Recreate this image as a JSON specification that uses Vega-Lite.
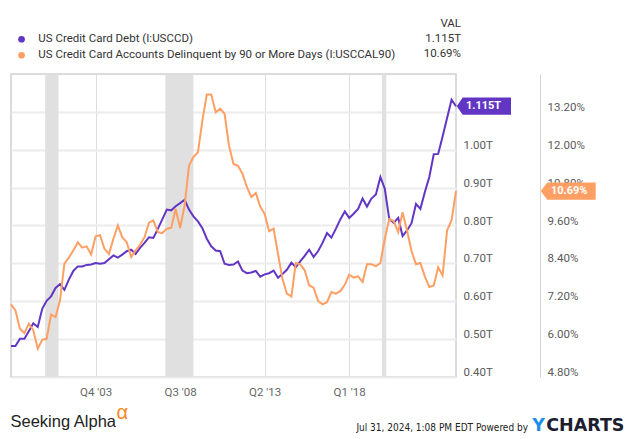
{
  "$schema": "https://vega.github.io/schema/vega-lite/v6.json",
  "width": 445,
  "height": 303,
  "autosize": {"type": "none"},
  "padding": {"left": 11, "top": 74, "right": 179, "bottom": 62},
  "background": "white",
  "config": {
    "view": {"stroke": "#cfcfcf", "strokeWidth": 1.5},
    "font": "Roboto"
  },
  "title": {
    "text": "VAL",
    "subtitle": ["1.115T", "10.69%"],
    "anchor": "end",
    "frame": "group",
    "orient": "top",
    "align": "right",
    "dx": 5,
    "dy": 40,
    "offset": 14,
    "font": "Roboto",
    "fontSize": 11.5,
    "fontWeight": "normal",
    "color": "#333333",
    "subtitleFont": "Roboto",
    "subtitleFontSize": 11.5,
    "subtitleColor": "#333333",
    "subtitlePadding": 4,
    "subtitleLineHeight": 15
  },
  "datasets": {
    "q": [
      {"date": "1999-03-31", "debt": 0.482, "delinq": 7.10},
      {"date": "1999-06-30", "debt": 0.482, "delinq": 6.91},
      {"date": "1999-09-30", "debt": 0.501, "delinq": 6.33},
      {"date": "1999-12-31", "debt": 0.501, "delinq": 6.19},
      {"date": "2000-03-31", "debt": 0.521, "delinq": 6.49},
      {"date": "2000-06-30", "debt": 0.542, "delinq": 6.28},
      {"date": "2000-09-30", "debt": 0.532, "delinq": 5.70},
      {"date": "2000-12-31", "debt": 0.580, "delinq": 5.98},
      {"date": "2001-03-31", "debt": 0.601, "delinq": 6.01},
      {"date": "2001-06-30", "debt": 0.613, "delinq": 6.78},
      {"date": "2001-09-30", "debt": 0.635, "delinq": 6.70},
      {"date": "2001-12-31", "debt": 0.645, "delinq": 7.23},
      {"date": "2002-03-31", "debt": 0.630, "delinq": 8.39},
      {"date": "2002-06-30", "debt": 0.657, "delinq": 8.58},
      {"date": "2002-09-30", "debt": 0.680, "delinq": 8.81},
      {"date": "2002-12-31", "debt": 0.692, "delinq": 9.07},
      {"date": "2003-03-31", "debt": 0.692, "delinq": 8.90},
      {"date": "2003-06-30", "debt": 0.696, "delinq": 8.94},
      {"date": "2003-09-30", "debt": 0.697, "delinq": 8.68},
      {"date": "2003-12-31", "debt": 0.701, "delinq": 9.26},
      {"date": "2004-03-31", "debt": 0.699, "delinq": 9.29},
      {"date": "2004-06-30", "debt": 0.701, "delinq": 8.86},
      {"date": "2004-09-30", "debt": 0.711, "delinq": 8.70},
      {"date": "2004-12-31", "debt": 0.721, "delinq": 9.18},
      {"date": "2005-03-31", "debt": 0.715, "delinq": 9.60},
      {"date": "2005-06-30", "debt": 0.723, "delinq": 9.23},
      {"date": "2005-09-30", "debt": 0.732, "delinq": 9.07},
      {"date": "2005-12-31", "debt": 0.736, "delinq": 8.60},
      {"date": "2006-03-31", "debt": 0.725, "delinq": 8.81},
      {"date": "2006-06-30", "debt": 0.741, "delinq": 8.99},
      {"date": "2006-09-30", "debt": 0.754, "delinq": 9.23},
      {"date": "2006-12-31", "debt": 0.769, "delinq": 9.69},
      {"date": "2007-03-31", "debt": 0.767, "delinq": 9.76},
      {"date": "2007-06-30", "debt": 0.791, "delinq": 9.39},
      {"date": "2007-09-30", "debt": 0.816, "delinq": 9.36},
      {"date": "2007-12-31", "debt": 0.842, "delinq": 9.50},
      {"date": "2008-03-31", "debt": 0.840, "delinq": 9.53},
      {"date": "2008-06-30", "debt": 0.851, "delinq": 10.13},
      {"date": "2008-09-30", "debt": 0.859, "delinq": 9.52},
      {"date": "2008-12-31", "debt": 0.868, "delinq": 10.24},
      {"date": "2009-03-31", "debt": 0.842, "delinq": 11.50},
      {"date": "2009-06-30", "debt": 0.824, "delinq": 11.77},
      {"date": "2009-09-30", "debt": 0.811, "delinq": 11.92},
      {"date": "2009-12-31", "debt": 0.793, "delinq": 12.93},
      {"date": "2010-03-31", "debt": 0.765, "delinq": 13.75},
      {"date": "2010-06-30", "debt": 0.745, "delinq": 13.75},
      {"date": "2010-09-30", "debt": 0.734, "delinq": 13.19},
      {"date": "2010-12-31", "debt": 0.732, "delinq": 13.30},
      {"date": "2011-03-31", "debt": 0.699, "delinq": 13.14},
      {"date": "2011-06-30", "debt": 0.696, "delinq": 12.13},
      {"date": "2011-09-30", "debt": 0.697, "delinq": 11.55},
      {"date": "2011-12-31", "debt": 0.705, "delinq": 11.49},
      {"date": "2012-03-31", "debt": 0.681, "delinq": 11.24},
      {"date": "2012-06-30", "debt": 0.674, "delinq": 10.82},
      {"date": "2012-09-30", "debt": 0.676, "delinq": 10.50},
      {"date": "2012-12-31", "debt": 0.680, "delinq": 10.63},
      {"date": "2013-03-31", "debt": 0.665, "delinq": 10.20},
      {"date": "2013-06-30", "debt": 0.671, "delinq": 9.97},
      {"date": "2013-09-30", "debt": 0.674, "delinq": 9.42},
      {"date": "2013-12-31", "debt": 0.681, "delinq": 9.50},
      {"date": "2014-03-31", "debt": 0.662, "delinq": 8.70},
      {"date": "2014-06-30", "debt": 0.672, "delinq": 7.91},
      {"date": "2014-09-30", "debt": 0.683, "delinq": 7.44},
      {"date": "2014-12-31", "debt": 0.702, "delinq": 7.35},
      {"date": "2015-03-31", "debt": 0.690, "delinq": 8.41},
      {"date": "2015-06-30", "debt": 0.705, "delinq": 8.37},
      {"date": "2015-09-30", "debt": 0.720, "delinq": 8.18},
      {"date": "2015-12-31", "debt": 0.736, "delinq": 7.70},
      {"date": "2016-03-31", "debt": 0.717, "delinq": 7.63},
      {"date": "2016-06-30", "debt": 0.732, "delinq": 7.21},
      {"date": "2016-09-30", "debt": 0.754, "delinq": 7.10},
      {"date": "2016-12-31", "debt": 0.780, "delinq": 7.17},
      {"date": "2017-03-31", "debt": 0.768, "delinq": 7.49},
      {"date": "2017-06-30", "debt": 0.791, "delinq": 7.44},
      {"date": "2017-09-30", "debt": 0.816, "delinq": 7.52},
      {"date": "2017-12-31", "debt": 0.837, "delinq": 7.72},
      {"date": "2018-03-31", "debt": 0.820, "delinq": 8.04},
      {"date": "2018-06-30", "debt": 0.831, "delinq": 7.95},
      {"date": "2018-09-30", "debt": 0.844, "delinq": 7.99},
      {"date": "2018-12-31", "debt": 0.871, "delinq": 7.81},
      {"date": "2019-03-31", "debt": 0.850, "delinq": 8.37},
      {"date": "2019-06-30", "debt": 0.871, "delinq": 8.37},
      {"date": "2019-09-30", "debt": 0.882, "delinq": 8.31},
      {"date": "2019-12-31", "debt": 0.928, "delinq": 8.41},
      {"date": "2020-03-31", "debt": 0.897, "delinq": 9.18},
      {"date": "2020-06-30", "debt": 0.817, "delinq": 9.80},
      {"date": "2020-09-30", "debt": 0.807, "delinq": 9.74},
      {"date": "2020-12-31", "debt": 0.820, "delinq": 9.39},
      {"date": "2021-03-31", "debt": 0.772, "delinq": 10.02},
      {"date": "2021-06-30", "debt": 0.787, "delinq": 9.44},
      {"date": "2021-09-30", "debt": 0.806, "delinq": 8.79},
      {"date": "2021-12-31", "debt": 0.857, "delinq": 8.37},
      {"date": "2022-03-31", "debt": 0.844, "delinq": 8.41},
      {"date": "2022-06-30", "debt": 0.888, "delinq": 7.99},
      {"date": "2022-09-30", "debt": 0.928, "delinq": 7.65},
      {"date": "2022-12-31", "debt": 0.988, "delinq": 7.70},
      {"date": "2023-03-31", "debt": 0.989, "delinq": 8.28},
      {"date": "2023-06-30", "debt": 1.035, "delinq": 8.02},
      {"date": "2023-09-30", "debt": 1.084, "delinq": 9.44},
      {"date": "2023-12-31", "debt": 1.132, "delinq": 9.76},
      {"date": "2024-03-31", "debt": 1.115, "delinq": 10.69}
    ],
    "rec": [
      {"start": "2001-03-01", "end": "2001-11-30"},
      {"start": "2007-12-01", "end": "2009-06-30"},
      {"start": "2020-02-01", "end": "2020-04-30"}
    ]
  },
  "data": {"name": "q"},
  "encoding": {
    "x": {
      "field": "date",
      "type": "temporal",
      "scale": {"type": "utc", "domain": [{"year": 1999, "month": 3, "date": 31, "utc": true}, {"year": 2024, "month": 3, "date": 31, "utc": true}]},
      "axis": {
        "values": [{"year": 2003, "month": 12, "date": 31, "utc": true}, {"year": 2008, "month": 9, "date": 30, "utc": true}, {"year": 2013, "month": 6, "date": 30, "utc": true}, {"year": 2018, "month": 3, "date": 31, "utc": true}],
        "labelExpr": "'Q' + utcquarter(datum.value) + \" '\" + utcFormat(datum.value, '%y')",
        "grid": true, "gridColor": "#dddddd", "gridWidth": 1,
        "ticks": false, "domain": false,
        "labelColor": "#666666", "labelFontSize": 11.5, "labelFont": "Roboto", "labelPadding": 9,
        "title": "Jul 31, 2024, 1:08 PM EDT Powered by",
        "titleX": 516.5, "titleY": 53, "titleAlign": "right", "titleAnchor": "end", "titleBaseline": "alphabetic",
        "titleFont": "'DejaVu Sans Condensed', 'Roboto Condensed', 'Liberation Sans Narrow', 'Liberation Sans'", "titleFontSize": 10, "titleFontWeight": "normal", "titleColor": "#222222"
      }
    }
  },
  "layer": [
    {
      "data": {"name": "rec"},
      "mark": {"type": "rect", "color": "#e0e0e0"},
      "encoding": {
        "x": {
          "field": "start",
          "type": "temporal",
          "scale": {"type": "utc", "domain": [{"year": 1999, "month": 3, "date": 31, "utc": true}, {"year": 2024, "month": 3, "date": 31, "utc": true}]},
          "axis": {
            "values": [{"year": 2003, "month": 12, "date": 31, "utc": true}, {"year": 2008, "month": 9, "date": 30, "utc": true}, {"year": 2013, "month": 6, "date": 30, "utc": true}, {"year": 2018, "month": 3, "date": 31, "utc": true}],
            "labelExpr": "'Q' + utcquarter(datum.value) + \" '\" + utcFormat(datum.value, '%y')",
            "grid": true, "gridColor": "#dddddd", "gridWidth": 1,
            "ticks": false, "domain": false,
            "labelColor": "#666666", "labelFontSize": 11.5, "labelFont": "Roboto", "labelPadding": 9,
            "title": "Jul 31, 2024, 1:08 PM EDT Powered by",
            "titleX": 516.5, "titleY": 53, "titleAlign": "right", "titleAnchor": "end", "titleBaseline": "alphabetic",
            "titleFont": "'DejaVu Sans Condensed', 'Roboto Condensed', 'Liberation Sans Narrow', 'Liberation Sans'", "titleFontSize": 10, "titleFontWeight": "normal", "titleColor": "#222222"
          }
        },
        "x2": {"field": "end"}
      }
    },
    {
      "mark": {"type": "line", "color": "#6236c5", "strokeWidth": 2},
      "encoding": {
        "y": {
          "field": "debt", "type": "quantitative",
          "scale": {"domain": [0.4, 1.2], "nice": false, "zero": false},
          "axis": {
            "orient": "right", "values": [0.4, 0.5, 0.6, 0.7, 0.8, 0.9, 1.0, 1.1],
            "labelExpr": "format(datum.value, '.2f') + 'T'",
            "grid": true, "gridColor": "#ececec", "gridWidth": 2,
            "domain": false, "ticks": false,
            "labelPadding": 7, "labelBaseline": "alphabetic", "labelOffset": -1.5,
            "labelColor": "#5a5a5a", "labelFontSize": 11.5, "labelFont": "Roboto",
            "title": null
          }
        }
      }
    },
    {
      "mark": {"type": "line", "color": "#ff9f63", "strokeWidth": 2},
      "encoding": {
        "y": {
          "field": "delinq", "type": "quantitative",
          "scale": {"domain": [4.8, 14.4], "nice": false, "zero": false},
          "axis": {
            "orient": "right", "offset": 84, "values": [4.8, 6.0, 7.2, 8.4, 9.6, 10.8, 12.0, 13.2],
            "labelExpr": "format(datum.value, '.2f') + '%'",
            "grid": false, "domain": true, "domainColor": "#d5d5d5", "domainWidth": 1, "ticks": false,
            "labelPadding": 7, "labelBaseline": "alphabetic", "labelOffset": -1.5,
            "labelColor": "#5a5a5a", "labelFontSize": 11.5, "labelFont": "Roboto",
            "title": null
          }
        }
      }
    },
    {
      "transform": [{"filter": "utcyear(datum.date) == 2024"}],
      "mark": {"type": "point", "shape": "M0.07,0 L0.67,-0.86 L5.5,-0.86 L5.5,0.86 L0.67,0.86 Z", "filled": true, "size": 400, "opacity": 1},
      "encoding": {
        "y": {
          "field": "debt", "type": "quantitative",
          "scale": {"domain": [0.4, 1.2], "nice": false, "zero": false},
          "axis": {
            "orient": "right", "labels": false, "ticks": false, "domain": false, "grid": false,
            "title": "Seeking Alpha", "titleAngle": 0, "titleX": -446, "titleY": 352.5,
            "titleAlign": "left", "titleBaseline": "alphabetic",
            "titleFont": "Liberation Sans", "titleFontSize": 16.5, "titleFontWeight": "normal", "titleColor": "#222222"
          }
        },
        "color": {
          "datum": "US Credit Card Debt (I:USCCD)",
          "scale": {"domain": ["US Credit Card Debt (I:USCCD)", "US Credit Card Accounts Delinquent by 90 or More Days (I:USCCAL90)"], "range": ["#6236c5", "#ff9f63"]},
          "legend": {
            "title": null, "orient": "none", "legendX": 4.8, "legendY": -40.5, "padding": 0,
            "symbolType": "circle", "symbolSize": 45, "labelFont": "Roboto", "labelFontSize": 11.5,
            "labelColor": "#333333", "labelOffset": 11, "rowPadding": 3, "labelLimit": 500, "direction": "vertical"
          }
        }
      }
    },
    {
      "transform": [{"filter": "utcyear(datum.date) == 2024"}, {"calculate": "format(datum.debt, '.3f') + 'T'", "as": "lbl"}],
      "mark": {"type": "text", "color": "white", "fontWeight": "bold", "fontSize": 11, "font": "Roboto", "dx": 27.5, "align": "center", "baseline": "middle"},
      "encoding": {
        "y": {
          "field": "debt", "type": "quantitative",
          "scale": {"domain": [0.4, 1.2], "nice": false, "zero": false},
          "axis": {
            "orient": "right", "labels": false, "ticks": false, "domain": false, "grid": false,
            "title": "α", "titleAngle": 0, "titleX": -340, "titleY": 344,
            "titleAlign": "left", "titleBaseline": "alphabetic",
            "titleFont": "Liberation Sans", "titleFontSize": 20, "titleFontWeight": "normal", "titleColor": "#f5891f"
          }
        },
        "text": {"field": "lbl", "type": "nominal"}
      }
    },
    {
      "transform": [{"filter": "utcyear(datum.date) == 2024"}],
      "mark": {"type": "point", "shape": "M8.47,0 L9.13,-0.86 L13.97,-0.86 L13.97,0.86 L9.13,0.86 Z", "filled": true, "size": 400, "opacity": 1},
      "encoding": {
        "y": {
          "field": "delinq", "type": "quantitative",
          "scale": {"domain": [4.8, 14.4], "nice": false, "zero": false},
          "axis": {
            "orient": "right", "labels": false, "ticks": false, "domain": false, "grid": false,
            "title": "Y", "titleAngle": 0, "titleX": 75.7, "titleY": 356.7,
            "titleAlign": "left", "titleBaseline": "alphabetic",
            "titleFont": "DejaVu Sans", "titleFontSize": 17.5, "titleFontWeight": "bold", "titleColor": "#1d8fe8"
          }
        },
        "color": {
          "datum": "US Credit Card Accounts Delinquent by 90 or More Days (I:USCCAL90)",
          "scale": {"domain": ["US Credit Card Debt (I:USCCD)", "US Credit Card Accounts Delinquent by 90 or More Days (I:USCCAL90)"], "range": ["#6236c5", "#ff9f63"]},
          "legend": {
            "title": null, "orient": "none", "legendX": 4.8, "legendY": -40.5, "padding": 0,
            "symbolType": "circle", "symbolSize": 45, "labelFont": "Roboto", "labelFontSize": 11.5,
            "labelColor": "#333333", "labelOffset": 11, "rowPadding": 3, "labelLimit": 500, "direction": "vertical"
          }
        }
      }
    },
    {
      "transform": [{"filter": "utcyear(datum.date) == 2024"}, {"calculate": "format(datum.delinq, '.2f') + '%'", "as": "lbl"}],
      "mark": {"type": "text", "color": "white", "fontWeight": "bold", "fontSize": 11, "font": "Roboto", "dx": 113.2, "align": "center", "baseline": "middle"},
      "encoding": {
        "y": {
          "field": "delinq", "type": "quantitative",
          "scale": {"domain": [4.8, 14.4], "nice": false, "zero": false},
          "axis": {
            "orient": "right", "labels": false, "ticks": false, "domain": false, "grid": false,
            "title": "CHARTS", "titleAngle": 0, "titleX": 89.7, "titleY": 356.7,
            "titleAlign": "left", "titleBaseline": "alphabetic",
            "titleFont": "DejaVu Sans", "titleFontSize": 17.5, "titleFontWeight": "bold", "titleColor": "#1b2030"
          }
        },
        "text": {"field": "lbl", "type": "nominal"}
      }
    }
  ],
  "resolve": {"scale": {"y": "independent"}, "axis": {"y": "independent"}}
}
